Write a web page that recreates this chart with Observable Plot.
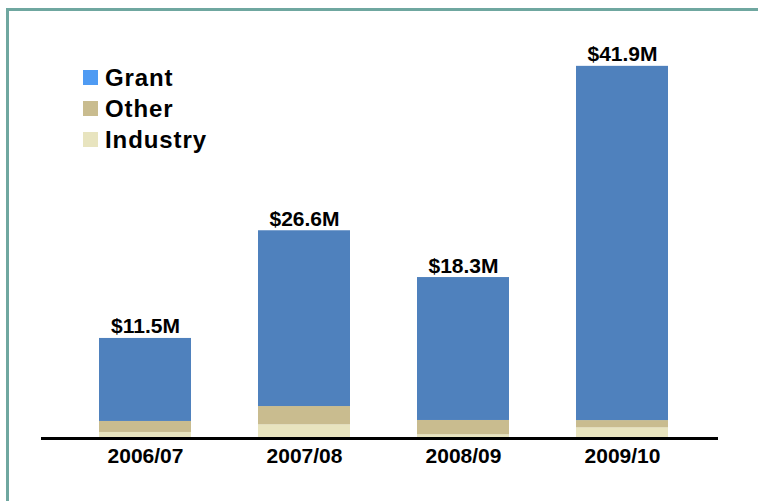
<!DOCTYPE html>
<html>
<head>
<meta charset="utf-8">
<script src="https://cdn.jsdelivr.net/npm/d3@7"></script>
<script src="https://cdn.jsdelivr.net/npm/@observablehq/plot@0.6"></script>
<style>
  html, body { margin: 0; padding: 0; background: #fff; }
  #wrap { position: relative; width: 758px; height: 501px; overflow: hidden; font-family: "Liberation Sans", Arial, sans-serif; }
  #border { position: absolute; left: 6px; top: 8px; width: 800px; height: 600px; border-top: 3px solid #6fa7a0; border-left: 3px solid #6fa7a0; box-sizing: border-box; }
  #legend { position: absolute; left: 83px; top: 62px; }
  .row { display: flex; align-items: center; height: 31px; font-weight: bold; font-size: 24px; letter-spacing: 0.9px; color: #000; }
  .sw { width: 15px; height: 15px; margin-right: 7px; }
  svg { position: absolute; left: 0; top: 0; }
</style>
</head>
<body>
<div id="wrap"><div id="border"></div></div>
<script>
const years = ["2006/07", "2007/08", "2008/09", "2009/10"];
const series = ["Industry", "Other", "Grant"];
const industry = [0.68, 1.54, 0.42, 1.2];
const other = [1.24, 2.06, 1.61, 0.82];
const grant = [9.35, 19.8, 16.1, 39.9];
const totalLabels = ["$11.5M", "$26.6M", "$18.3M", "$41.9M"];
const barColors = ["#e8e4bf", "#c9bc8f", "#4f81bd"];
const legendNames = ["Grant", "Other", "Industry"];
const legendColors = ["#4f9bf3", "#c9bc8f", "#e8e4bf"];

const data = [];
years.forEach((y, i) => {
  data.push({year: y, series: "Industry", value: industry[i]});
  data.push({year: y, series: "Other", value: other[i]});
  data.push({year: y, series: "Grant", value: grant[i]});
});
const totals = years.map((y, i) => ({year: y, total: industry[i] + other[i] + grant[i], label: totalLabels[i]}));

const chart = Plot.plot({
  width: 758,
  height: 501,
  marginLeft: 41,
  marginRight: 40,
  marginTop: 38.5,
  marginBottom: 63,
  style: {fontFamily: "'Liberation Sans', Arial, sans-serif", background: "transparent"},
  x: {domain: years, range: [98, 669], paddingInner: 0.424, paddingOuter: 0, label: null},
  y: {domain: [0, 45], axis: null},
  color: {domain: series, range: barColors},
  marks: [
    Plot.barY(data, {x: "year", y: "value", fill: "series", order: series}),
    Plot.text(totals, {x: "year", y: "total", text: "label", dy: -5, lineAnchor: "bottom", fontSize: 21, fontWeight: "bold", fill: "#000"}),
    Plot.ruleY([0], {stroke: "#000", strokeWidth: 3}),
    Plot.axisX({tickSize: 0, tickPadding: 10, fontSize: 21, fontWeight: "bold", fill: "#000", label: null})
  ]
});
document.getElementById("wrap").appendChild(chart);

const legend = document.createElement("div");
legend.id = "legend";
legendNames.forEach((n, i) => {
  const row = document.createElement("div");
  row.className = "row";
  const sw = document.createElement("div");
  sw.className = "sw";
  sw.style.background = legendColors[i];
  row.appendChild(sw);
  row.appendChild(document.createTextNode(n));
  legend.appendChild(row);
});
document.getElementById("wrap").appendChild(legend);
</script>
</body>
</html>
